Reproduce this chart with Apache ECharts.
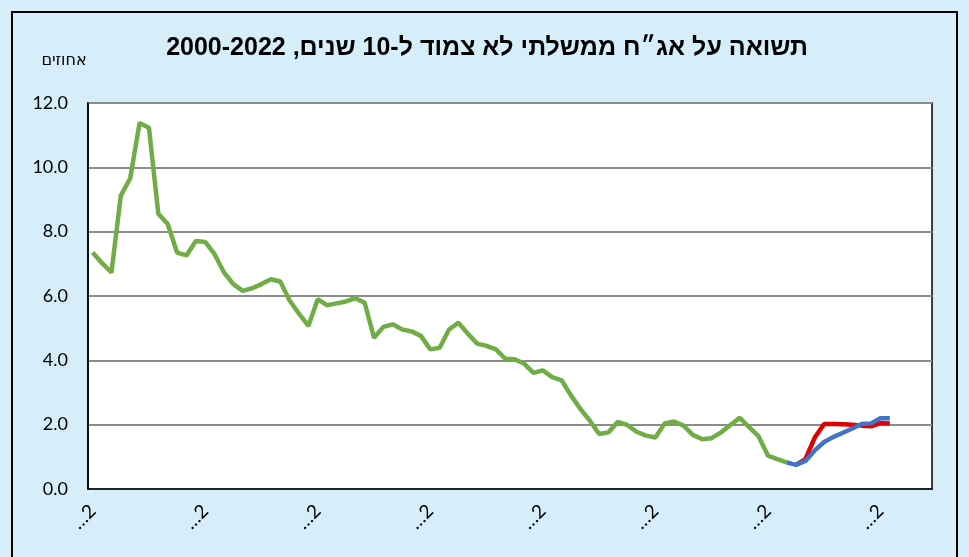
<!DOCTYPE html>
<html>
<head>
<meta charset="utf-8">
<script src="https://cdn.jsdelivr.net/npm/echarts@6/dist/echarts.min.js"></script>
<style>
html,body{margin:0;padding:0;background:#D5EEF9;}
#c{width:969px;height:557px;}
</style>
</head>
<body>
<div id="c"></div>
<script>
// Quarterly categories (90 quarters starting 2000Q1)
const startYear = 2000;
const nCategories = 90;
const categories = [];
for (let k = 0; k < nCategories; k++) {
  categories.push((startYear + Math.floor(k / 4)) + 'Q' + (k % 4 + 1));
}

// Green series: historical yield (index 0..74)
const greenValues = [7.35, 7.02, 6.73, 9.12, 9.66, 11.38, 11.23, 8.56, 8.24, 7.35,
  7.26, 7.71, 7.68, 7.30, 6.73, 6.37, 6.16, 6.24, 6.37, 6.52,
  6.45, 5.86, 5.45, 5.07, 5.90, 5.71, 5.77, 5.83, 5.93, 5.79,
  4.70, 5.04, 5.12, 4.96, 4.90, 4.76, 4.34, 4.39, 4.96, 5.17,
  4.83, 4.52, 4.45, 4.34, 4.05, 4.03, 3.90, 3.61, 3.69, 3.48,
  3.38, 2.91, 2.49, 2.13, 1.71, 1.76, 2.09, 1.99, 1.78, 1.66,
  1.60, 2.04, 2.10, 1.97, 1.68, 1.55, 1.58, 1.76, 1.99, 2.21,
  1.92, 1.64, 1.04, 0.93, 0.83];
const greenStart = 0;

// Blue series (starts at index 74)
const blueValues = [0.83, 0.75, 0.87, 1.20, 1.46, 1.62, 1.75, 1.88, 2.02, 2.04, 2.20, 2.20];
const blueStart = 74;

// Red series (starts at index 75)
const redValues = [0.75, 0.93, 1.60, 2.02, 2.02, 2.01, 2.00, 1.97, 1.95, 2.05, 2.04];
const redStart = 75;

const yTicks = [0, 2, 4, 6, 8, 10, 12];

const titleText = 'תשואה על אג\u05F4ח ממשלתי לא צמוד ל-10 שנים, 2000-2022';
const unitText = 'אחוזים';

function place(values, start) {
  const arr = new Array(nCategories).fill(null);
  values.forEach((v, i) => { arr[start + i] = v; });
  return arr;
}

const chart = echarts.init(document.getElementById('c'), null, {renderer: 'canvas'});
chart.setOption({
  backgroundColor: '#D5EEF9',
  animation: false,
  title: {
    text: titleText,
    left: 482,
    top: 31,
    textAlign: 'center',
    textStyle: {fontFamily: 'Liberation Sans, DejaVu Sans, sans-serif', fontSize: 25, fontWeight: 'bold', color: '#000'}
  },
  graphic: [
    {type: 'rect', shape: {x: 12, y: 12, width: 945, height: 570}, style: {fill: 'none', stroke: '#000', lineWidth: 2}, silent: true, z: 100},
    {type: 'text', x: 64, y: 61, style: {text: unitText, fontFamily: 'DejaVu Sans, Liberation Sans, sans-serif', fontSize: 16, fill: '#000', align: 'center', verticalAlign: 'middle'}}
  ],
  grid: {left: 88, top: 103, right: 37, bottom: 68, show: true, backgroundColor: '#fff', borderColor: '#000', borderWidth: 1.5},
  xAxis: {
    type: 'category',
    data: categories,
    boundaryGap: true,
    axisLine: {show: true, lineStyle: {color: '#000', width: 1.5}},
    axisTick: {show: false},
    axisLabel: {
      interval: 11,
      rotate: 45,
      margin: 19,
      fontSize: 19,
      color: '#000',
      fontFamily: 'Lato, DejaVu Sans, sans-serif',
      formatter: v => '\u2026' + String(v).charAt(0)
    },
    splitLine: {show: false}
  },
  yAxis: {
    type: 'value',
    min: yTicks[0],
    max: yTicks[yTicks.length - 1],
    interval: 2,
    axisLine: {show: true, lineStyle: {color: '#000', width: 1.5}},
    axisTick: {show: false},
    axisLabel: {margin: 20, fontSize: 18, color: '#000', fontFamily: 'Lato, DejaVu Sans, sans-serif', formatter: v => v.toFixed(1)},
    splitLine: {show: true, lineStyle: {color: '#8c8c8c', width: 2}}
  },
  series: [
    {type: 'line', data: place(greenValues, greenStart), symbol: 'none', lineStyle: {color: '#70AD47', width: 4.5}, z: 2},
    {type: 'line', data: place(redValues, redStart), symbol: 'none', lineStyle: {color: '#E00000', width: 4.5}, z: 3},
    {type: 'line', data: place(blueValues, blueStart), symbol: 'none', lineStyle: {color: '#4472C4', width: 4.5}, z: 4}
  ]
});
</script>
</body>
</html>
